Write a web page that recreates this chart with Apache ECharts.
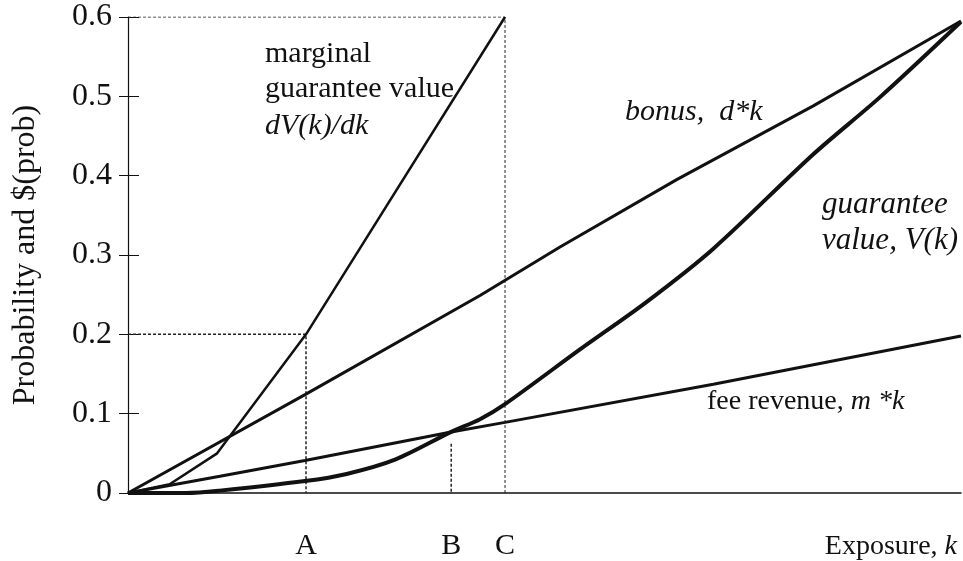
<!DOCTYPE html>
<html>
<head>
<meta charset="utf-8">
<script src="https://cdn.jsdelivr.net/npm/echarts@6/dist/echarts.min.js"></script>
<style>
html, body { margin: 0; padding: 0; background: #fff; }
#chart { width: 963px; height: 561px; }
</style>
</head>
<body>
<div id="chart"></div>
<script>
// exposure k, scaled 0..1 across the plot
var xTicks = [0.2137, 0.388, 0.4526];
var xTickLabels = ['A', 'B', 'C'];

// marginal guarantee value dV(k)/dk
var marginalK = [0, 0.05, 0.107, 0.2137, 0.4526];
var marginalV = [0, 0.011, 0.05, 0.2, 0.6];

// bonus d*k
var bonusK = [0, 0.2125, 0.4226, 0.5186, 0.6587, 0.8227, 1];
var bonusV = [0, 0.124, 0.249, 0.31, 0.395, 0.488, 0.595];

// fee revenue m*k
var feeK = [0, 0.1104, 0.2125, 0.388, 0.4526, 0.7027, 1];
var feeV = [0, 0.021, 0.041, 0.077, 0.089, 0.137, 0.198];

// guarantee value V(k)
var guarK = [0, 0.07, 0.11, 0.2125, 0.2625, 0.3205, 0.388, 0.4226, 0.4526, 0.5426, 0.6227, 0.7027, 0.8227, 0.9028, 1];
var guarV = [0, 0, 0.003, 0.015, 0.024, 0.042, 0.077, 0.093, 0.112, 0.181, 0.241, 0.308, 0.427, 0.499, 0.594];

// dotted guide levels at A, B, C
var guideA = 0.2;
var guideB = 0.062;
var guideC = 0.6;

function zip(xs, ys) {
  return xs.map(function (x, i) { return [x, ys[i]]; });
}

var serif = '"Liberation Serif", "Times New Roman", serif';
var ink = '#111';

function curve(name, xs, ys, w, smooth) {
  return {
    name: name, type: 'line', data: zip(xs, ys),
    showSymbol: false, silent: true, smooth: smooth || false,
    lineStyle: { color: ink, width: w }
  };
}
function guide(pts, w) {
  return {
    type: 'line', data: pts, showSymbol: false, silent: true,
    lineStyle: { color: '#222', width: w, type: [3, 2] }
  };
}

var chart = echarts.init(document.getElementById('chart'));
var option = {
  animation: false,
  grid: { left: 128, top: 17, right: 2, bottom: 68 },
  xAxis: {
    type: 'value', min: 0, max: 1,
    splitLine: { show: false },
    axisLine: { lineStyle: { color: ink, width: 1.5 } },
    axisTick: { show: false },
    axisLabel: {
      customValues: xTicks,
      formatter: function (v) { return xTickLabels[xTicks.indexOf(v)]; },
      margin: 38, color: ink, fontFamily: serif, fontSize: 30
    }
  },
  yAxis: [{
    type: 'value', min: 0, max: 0.6, interval: 0.1,
    splitLine: { show: false },
    axisLine: { show: true, lineStyle: { color: ink, width: 1.2 } },
    axisTick: { show: true, length: 9, lineStyle: { color: ink } },
    axisLabel: { margin: 16, color: ink, fontFamily: serif, fontSize: 32,
      formatter: function (v) { return String(+v.toFixed(1)); } },
    name: 'Probability and $(prob)',
    nameLocation: 'middle', nameGap: 86, nameRotate: 90,
    nameTextStyle: { color: ink, fontFamily: serif, fontSize: 32 }
  }, {
    type: 'value', min: 0, max: 0.6, interval: 0.1, position: 'left',
    splitLine: { show: false },
    axisLine: { show: false },
    axisTick: { show: true, inside: true, length: 11, lineStyle: { color: ink } },
    axisLabel: { show: false }
  }],
  graphic: [
    { type: 'text', x: 265, y: 54, style: { text: 'marginal', fill: ink, font: '30px ' + serif, verticalAlign: 'middle' } },
    { type: 'text', x: 265, y: 89, style: { text: 'guarantee value', fill: ink, font: '30px ' + serif, verticalAlign: 'middle' } },
    { type: 'text', x: 265, y: 126, style: { text: 'dV(k)/dk', fill: ink, font: 'italic 30px ' + serif, verticalAlign: 'middle' } },
    { type: 'text', x: 625, y: 112, style: { text: 'bonus,  d*k', fill: ink, font: 'italic 30px ' + serif, verticalAlign: 'middle' } },
    { type: 'text', x: 822, y: 205, style: { text: 'guarantee', fill: ink, font: 'italic 31px ' + serif, verticalAlign: 'middle' } },
    { type: 'text', x: 822, y: 241, style: { text: 'value, V(k)', fill: ink, font: 'italic 31px ' + serif, verticalAlign: 'middle' } },
    { type: 'text', x: 707, y: 402, style: {
        text: '{n|fee revenue, }{i|m *k}', verticalAlign: 'middle',
        rich: { n: { fill: ink, fontFamily: serif, fontSize: 28 },
                i: { fill: ink, fontFamily: serif, fontSize: 28, fontStyle: 'italic' } } } },
    { type: 'text', x: 957, y: 547, style: {
        text: '{n|Exposure, }{i|k}', align: 'right', verticalAlign: 'middle',
        rich: { n: { fill: ink, fontFamily: serif, fontSize: 28 },
                i: { fill: ink, fontFamily: serif, fontSize: 28, fontStyle: 'italic' } } } }
  ],
  series: [
    guide([[0, guideC], [xTicks[2], guideC], [xTicks[2], 0]], 1),
    guide([[0, guideA], [xTicks[0], guideA], [xTicks[0], 0]], 1.5),
    guide([[xTicks[1], guideB], [xTicks[1], 0]], 1.5),
    curve('fee revenue', feeK, feeV, 3),
    curve('bonus', bonusK, bonusV, 3),
    curve('marginal guarantee value', marginalK, marginalV, 2.5),
    curve('guarantee value', guarK, guarV, 4, 0.3)
  ]
};
chart.setOption(option);
</script>
</body>
</html>
